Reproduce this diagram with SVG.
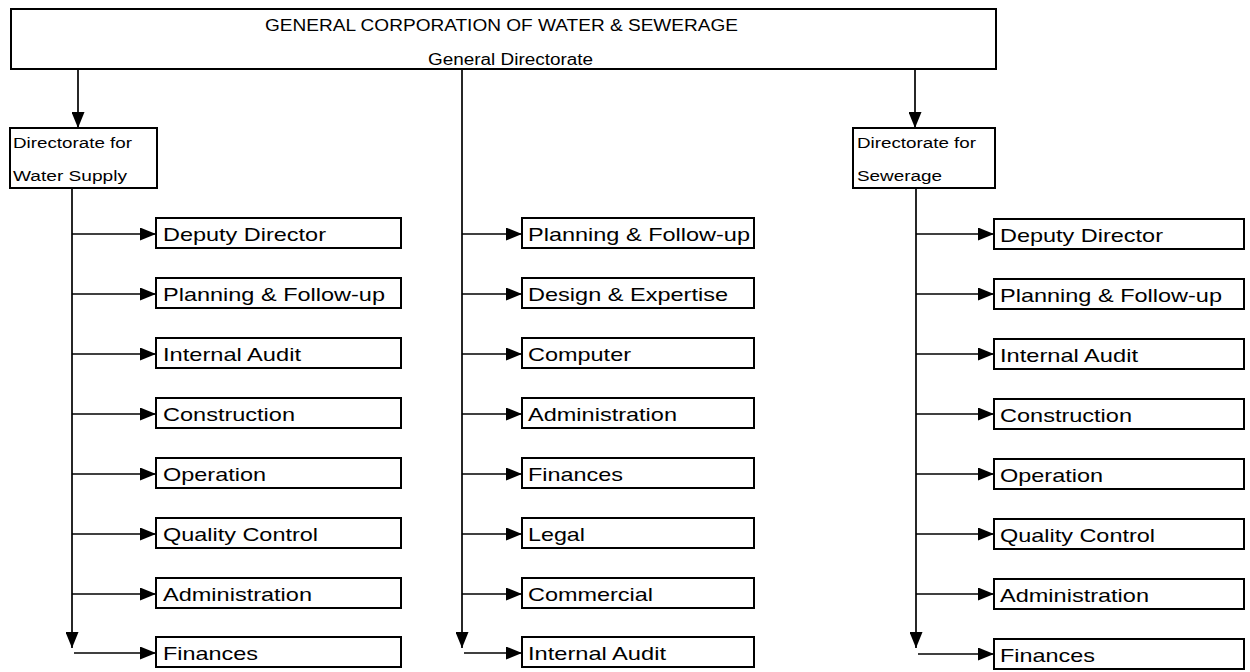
<svg xmlns="http://www.w3.org/2000/svg" width="1250" height="672" viewBox="0 0 1250 672">
<style>
rect{fill:#fff;stroke:#000;stroke-width:2}
text{font-family:"Liberation Sans",Arial,sans-serif;fill:#000}
.b{font-size:19px}
.d{font-size:15.5px}
.t{font-size:16px}
#connectors line{stroke:#000;stroke-width:1.7}
</style>
<defs>
<marker id="ah" viewBox="0 0 16 13" refX="16" refY="6.5" markerWidth="16" markerHeight="13" orient="auto" markerUnits="userSpaceOnUse"><path d="M0,0 L16,6.5 L0,13 z" fill="#000"/></marker>
</defs>
<g id="connectors">
<line x1="78" y1="69" x2="78" y2="128" marker-end="url(#ah)"/>
<line x1="915" y1="69" x2="915" y2="128" marker-end="url(#ah)"/>
<line x1="72" y1="188" x2="72" y2="648" marker-end="url(#ah)"/>
<line x1="462" y1="69" x2="462" y2="648" marker-end="url(#ah)"/>
<line x1="916" y1="188" x2="916" y2="648" marker-end="url(#ah)"/>
<line x1="72" y1="234" x2="156" y2="234" marker-end="url(#ah)"/>
<line x1="72" y1="294" x2="156" y2="294" marker-end="url(#ah)"/>
<line x1="72" y1="354" x2="156" y2="354" marker-end="url(#ah)"/>
<line x1="72" y1="414" x2="156" y2="414" marker-end="url(#ah)"/>
<line x1="72" y1="474" x2="156" y2="474" marker-end="url(#ah)"/>
<line x1="72" y1="534" x2="156" y2="534" marker-end="url(#ah)"/>
<line x1="72" y1="594" x2="156" y2="594" marker-end="url(#ah)"/>
<line x1="74" y1="653" x2="156" y2="653" marker-end="url(#ah)"/>
<line x1="462" y1="234" x2="522" y2="234" marker-end="url(#ah)"/>
<line x1="462" y1="294" x2="522" y2="294" marker-end="url(#ah)"/>
<line x1="462" y1="354" x2="522" y2="354" marker-end="url(#ah)"/>
<line x1="462" y1="414" x2="522" y2="414" marker-end="url(#ah)"/>
<line x1="462" y1="474" x2="522" y2="474" marker-end="url(#ah)"/>
<line x1="462" y1="534" x2="522" y2="534" marker-end="url(#ah)"/>
<line x1="462" y1="594" x2="522" y2="594" marker-end="url(#ah)"/>
<line x1="464" y1="653" x2="522" y2="653" marker-end="url(#ah)"/>
<line x1="916" y1="234" x2="994" y2="234" marker-end="url(#ah)"/>
<line x1="916" y1="294" x2="994" y2="294" marker-end="url(#ah)"/>
<line x1="916" y1="354" x2="994" y2="354" marker-end="url(#ah)"/>
<line x1="916" y1="414" x2="994" y2="414" marker-end="url(#ah)"/>
<line x1="916" y1="474" x2="994" y2="474" marker-end="url(#ah)"/>
<line x1="916" y1="534" x2="994" y2="534" marker-end="url(#ah)"/>
<line x1="916" y1="594" x2="994" y2="594" marker-end="url(#ah)"/>
<line x1="918" y1="654" x2="994" y2="654" marker-end="url(#ah)"/>
</g>
<g id="top">
<rect x="11" y="9" width="985" height="60"/>
<text class="t" x="265" y="31" textLength="473" lengthAdjust="spacingAndGlyphs">GENERAL CORPORATION OF WATER &amp; SEWERAGE</text>
<text class="t" x="428" y="65" textLength="165" lengthAdjust="spacingAndGlyphs">General Directorate</text>
</g>
<g id="dir-water">
<rect x="10" y="128" width="147" height="60"/>
<text class="d" x="13" y="148" textLength="119" lengthAdjust="spacingAndGlyphs">Directorate for</text>
<text class="d" x="13" y="181" textLength="114" lengthAdjust="spacingAndGlyphs">Water Supply</text>
</g>
<g id="dir-sewerage">
<rect x="853" y="128" width="142" height="60"/>
<text class="d" x="857" y="148" textLength="119" lengthAdjust="spacingAndGlyphs">Directorate for</text>
<text class="d" x="857" y="181" textLength="85" lengthAdjust="spacingAndGlyphs">Sewerage</text>
</g>
<g id="w1"><rect x="156" y="218" width="245" height="30"/><text class="b" x="163" y="241" textLength="163" lengthAdjust="spacingAndGlyphs">Deputy Director</text></g>
<g id="w2"><rect x="156" y="278" width="245" height="30"/><text class="b" x="163" y="301" textLength="222" lengthAdjust="spacingAndGlyphs">Planning &amp; Follow-up</text></g>
<g id="w3"><rect x="156" y="338" width="245" height="30"/><text class="b" x="163" y="361" textLength="138" lengthAdjust="spacingAndGlyphs">Internal Audit</text></g>
<g id="w4"><rect x="156" y="398" width="245" height="30"/><text class="b" x="163" y="421" textLength="132" lengthAdjust="spacingAndGlyphs">Construction</text></g>
<g id="w5"><rect x="156" y="458" width="245" height="30"/><text class="b" x="163" y="481" textLength="103" lengthAdjust="spacingAndGlyphs">Operation</text></g>
<g id="w6"><rect x="156" y="518" width="245" height="30"/><text class="b" x="163" y="541" textLength="155" lengthAdjust="spacingAndGlyphs">Quality Control</text></g>
<g id="w7"><rect x="156" y="578" width="245" height="30"/><text class="b" x="163" y="601" textLength="149" lengthAdjust="spacingAndGlyphs">Administration</text></g>
<g id="w8"><rect x="156" y="637" width="245" height="30"/><text class="b" x="163" y="660" textLength="95" lengthAdjust="spacingAndGlyphs">Finances</text></g>
<g id="m1"><rect x="522" y="218" width="232" height="30"/><text class="b" x="528" y="241" textLength="222" lengthAdjust="spacingAndGlyphs">Planning &amp; Follow-up</text></g>
<g id="m2"><rect x="522" y="278" width="232" height="30"/><text class="b" x="528" y="301" textLength="200" lengthAdjust="spacingAndGlyphs">Design &amp; Expertise</text></g>
<g id="m3"><rect x="522" y="338" width="232" height="30"/><text class="b" x="528" y="361" textLength="103" lengthAdjust="spacingAndGlyphs">Computer</text></g>
<g id="m4"><rect x="522" y="398" width="232" height="30"/><text class="b" x="528" y="421" textLength="149" lengthAdjust="spacingAndGlyphs">Administration</text></g>
<g id="m5"><rect x="522" y="458" width="232" height="30"/><text class="b" x="528" y="481" textLength="95" lengthAdjust="spacingAndGlyphs">Finances</text></g>
<g id="m6"><rect x="522" y="518" width="232" height="30"/><text class="b" x="528" y="541" textLength="57" lengthAdjust="spacingAndGlyphs">Legal</text></g>
<g id="m7"><rect x="522" y="578" width="232" height="30"/><text class="b" x="528" y="601" textLength="125" lengthAdjust="spacingAndGlyphs">Commercial</text></g>
<g id="m8"><rect x="522" y="637" width="232" height="30"/><text class="b" x="528" y="660" textLength="138" lengthAdjust="spacingAndGlyphs">Internal Audit</text></g>
<g id="s1"><rect x="994" y="219" width="250" height="30"/><text class="b" x="1000" y="242" textLength="163" lengthAdjust="spacingAndGlyphs">Deputy Director</text></g>
<g id="s2"><rect x="994" y="279" width="250" height="30"/><text class="b" x="1000" y="302" textLength="222" lengthAdjust="spacingAndGlyphs">Planning &amp; Follow-up</text></g>
<g id="s3"><rect x="994" y="339" width="250" height="30"/><text class="b" x="1000" y="362" textLength="138" lengthAdjust="spacingAndGlyphs">Internal Audit</text></g>
<g id="s4"><rect x="994" y="399" width="250" height="30"/><text class="b" x="1000" y="422" textLength="132" lengthAdjust="spacingAndGlyphs">Construction</text></g>
<g id="s5"><rect x="994" y="459" width="250" height="30"/><text class="b" x="1000" y="482" textLength="103" lengthAdjust="spacingAndGlyphs">Operation</text></g>
<g id="s6"><rect x="994" y="519" width="250" height="30"/><text class="b" x="1000" y="542" textLength="155" lengthAdjust="spacingAndGlyphs">Quality Control</text></g>
<g id="s7"><rect x="994" y="579" width="250" height="30"/><text class="b" x="1000" y="602" textLength="149" lengthAdjust="spacingAndGlyphs">Administration</text></g>
<g id="s8"><rect x="994" y="639" width="250" height="30"/><text class="b" x="1000" y="662" textLength="95" lengthAdjust="spacingAndGlyphs">Finances</text></g>
</svg>
